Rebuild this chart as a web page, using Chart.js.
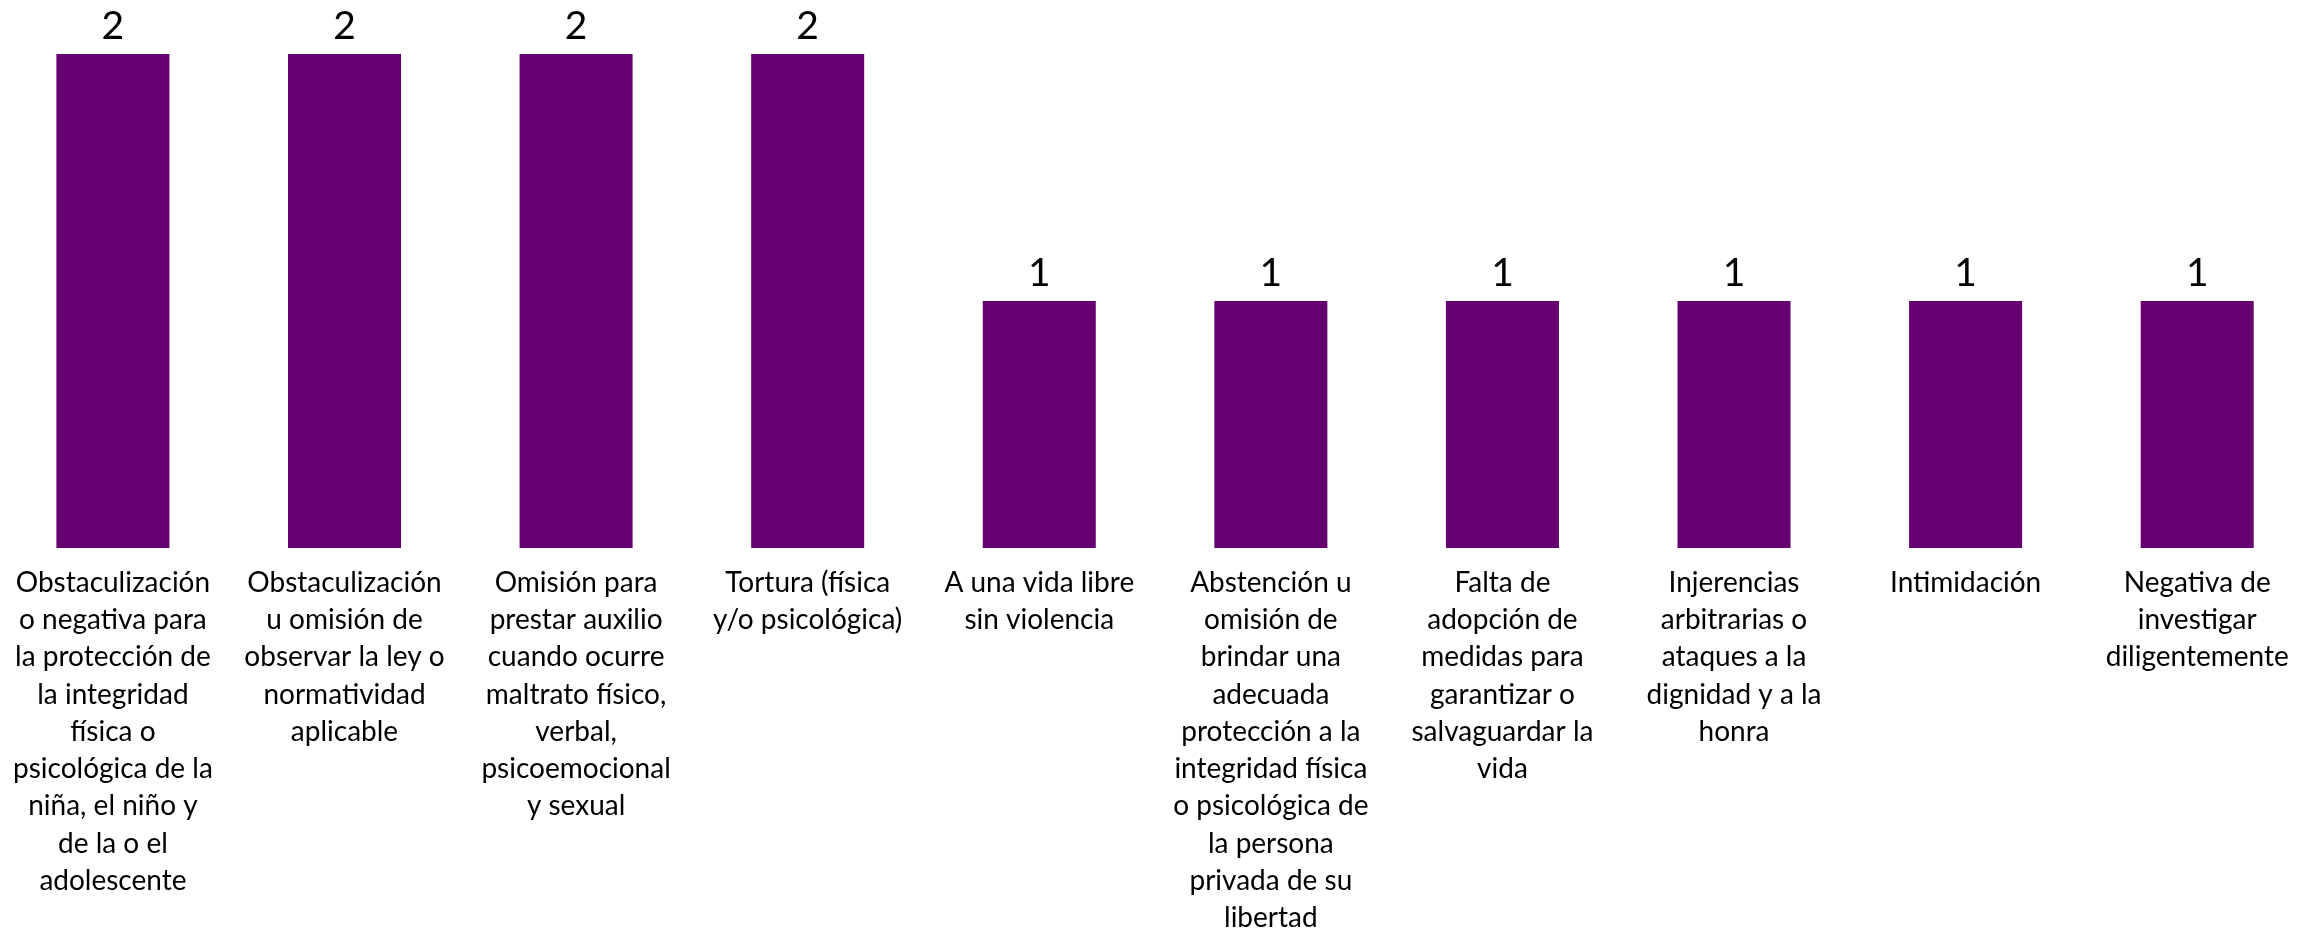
<!DOCTYPE html>
<html lang="es">
<head>
    <meta charset="UTF-8">
    <title>Derechos vulnerados</title>
    <script src="https://cdn.jsdelivr.net/npm/chart.js"></script>
    <style>
        html, body {
            margin: 0;
            padding: 0;
            background: #ffffff;
            overflow: hidden;
        }
        #chart {
            position: absolute;
            left: -3px;
            top: 0;
        }
    </style>
</head>
<body>
    <canvas id="chart" width="2316" height="933"></canvas>
    <script>
        // categories, one entry per bar (lines as wrapped in the original)
        const categories = [
            ['Obstaculización', 'o negativa para', 'la protección de', 'la integridad', 'física o', 'psicológica de la', 'niña, el niño y', 'de la o el', 'adolescente'],
            ['Obstaculización', 'u omisión de', 'observar la ley o', 'normatividad', 'aplicable'],
            ['Omisión para', 'prestar auxilio', 'cuando ocurre', 'maltrato físico,', 'verbal,', 'psicoemocional', 'y sexual'],
            ['Tortura (física', 'y/o psicológica)'],
            ['A una vida libre', 'sin violencia'],
            ['Abstención u', 'omisión de', 'brindar una', 'adecuada', 'protección a la', 'integridad física', 'o psicológica de', 'la persona', 'privada de su', 'libertad'],
            ['Falta de', 'adopción de', 'medidas para', 'garantizar o', 'salvaguardar la', 'vida'],
            ['Injerencias', 'arbitrarias o', 'ataques a la', 'dignidad y a la', 'honra'],
            ['Intimidación'],
            ['Negativa de', 'investigar', 'diligentemente']
        ];
        const counts = [2, 2, 2, 2, 1, 1, 1, 1, 1, 1];

        const barColor = '#660070';
        const fontFamily = 'Lato, "Open Sans", sans-serif';

        // draws the number above each bar
        const valueLabels = {
            id: 'valueLabels',
            afterDatasetsDraw(chart) {
                const ctx = chart.ctx;
                const meta = chart.getDatasetMeta(0);
                ctx.save();
                ctx.font = '39px ' + fontFamily;
                ctx.fillStyle = '#000000';
                ctx.textAlign = 'center';
                ctx.textBaseline = 'alphabetic';
                meta.data.forEach((bar, i) => {
                    ctx.fillText(String(counts[i]), bar.x, bar.y - 15);
                });
                ctx.restore();
            }
        };

        new Chart(document.getElementById('chart'), {
            type: 'bar',
            data: {
                labels: categories,
                datasets: [{
                    data: counts,
                    backgroundColor: barColor,
                    borderWidth: 0,
                    categoryPercentage: 1,
                    barPercentage: 0.488
                }]
            },
            options: {
                responsive: false,
                animation: false,
                layout: {
                    padding: { top: 54, left: 0, right: 0, bottom: 0 }
                },
                plugins: {
                    legend: { display: false },
                    tooltip: { enabled: false }
                },
                scales: {
                    x: {
                        grid: { display: false, drawTicks: false },
                        border: { display: false },
                        ticks: {
                            autoSkip: false,
                            maxRotation: 0,
                            minRotation: 0,
                            padding: 16,
                            color: '#000000',
                            font: { family: fontFamily, size: 28, lineHeight: '37.3px' }
                        },
                        afterFit(scale) {
                            scale.height = 385;
                        }
                    },
                    y: {
                        display: false,
                        min: 0,
                        max: 2
                    }
                }
            },
            plugins: [valueLabels]
        });
    </script>
</body>
</html>
